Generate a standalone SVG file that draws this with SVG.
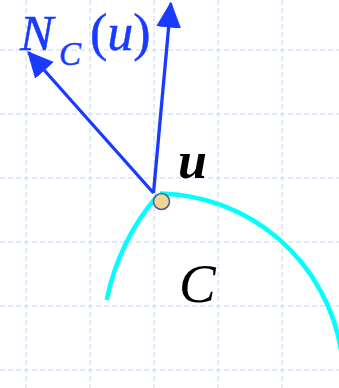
<svg xmlns="http://www.w3.org/2000/svg" width="339" height="388" viewBox="0 0 339 388">
<defs>
<style>
.grid line{stroke:#c8d6f7;stroke-width:1;stroke-dasharray:5 3}
.vec{stroke:#1a3bff;stroke-width:3.3;fill:none}
.curve{stroke:#00ffff;stroke-width:4.5;fill:none}
.lbl{font-family:"Liberation Serif","Times New Roman",serif;font-style:italic}
.blue{fill:#1a3bff;stroke:#1a3bff;stroke-width:0.5}
.up{font-style:normal}
</style>
<marker id="ah" viewBox="0 0 26 26" refX="24" refY="13" markerWidth="26" markerHeight="26" markerUnits="userSpaceOnUse" orient="auto">
<path d="M0,0.5 L26,13 L0,25.5 z" fill="#1a3bff"/>
</marker>
</defs>
<rect width="339" height="388" fill="#ffffff"/>
<g class="grid">
<line x1="26" y1="0" x2="26" y2="388"/>
<line x1="90" y1="0" x2="90" y2="388"/>
<line x1="154" y1="0" x2="154" y2="388"/>
<line x1="218" y1="0" x2="218" y2="388"/>
<line x1="282" y1="0" x2="282" y2="388"/>
<line x1="0" y1="50" x2="339" y2="50"/>
<line x1="0" y1="114" x2="339" y2="114"/>
<line x1="0" y1="178" x2="339" y2="178"/>
<line x1="0" y1="242" x2="339" y2="242"/>
<line x1="0" y1="306" x2="339" y2="306"/>
<line x1="0" y1="370" x2="339" y2="370"/>
</g>
<g id="curve-C">
<path class="curve" d="M106.7,300 A231,231 0 0 1 158,195"/>
<path class="curve" d="M160,193.5 A187,187 0 0 1 341,350"/>
</g>
<g id="connectors">
<line class="vec" x1="153.5" y1="193" x2="28.5" y2="52.5" marker-end="url(#ah)"/>
<line class="vec" x1="153.5" y1="193" x2="170.8" y2="3.5" marker-end="url(#ah)"/>
</g>
<g id="point-u">
<circle cx="161.5" cy="201.5" r="8" fill="#efd791" stroke="#55589a" stroke-width="1.6"/>
</g>
<g id="label-NC">
<text class="lbl blue" x="20" y="50" font-size="50">N</text>
<text class="lbl blue" x="59" y="65" font-size="33">C</text>
<text class="lbl blue" x="90" y="50" font-size="52"><tspan class="up">(</tspan>u<tspan class="up">)</tspan></text>
</g>
<g id="label-u">
<text class="lbl" x="178" y="178" font-size="52" font-weight="bold" fill="#000000">u</text>
</g>
<g id="label-C">
<text class="lbl" x="179" y="302" font-size="55" fill="#000000">C</text>
</g>
</svg>
